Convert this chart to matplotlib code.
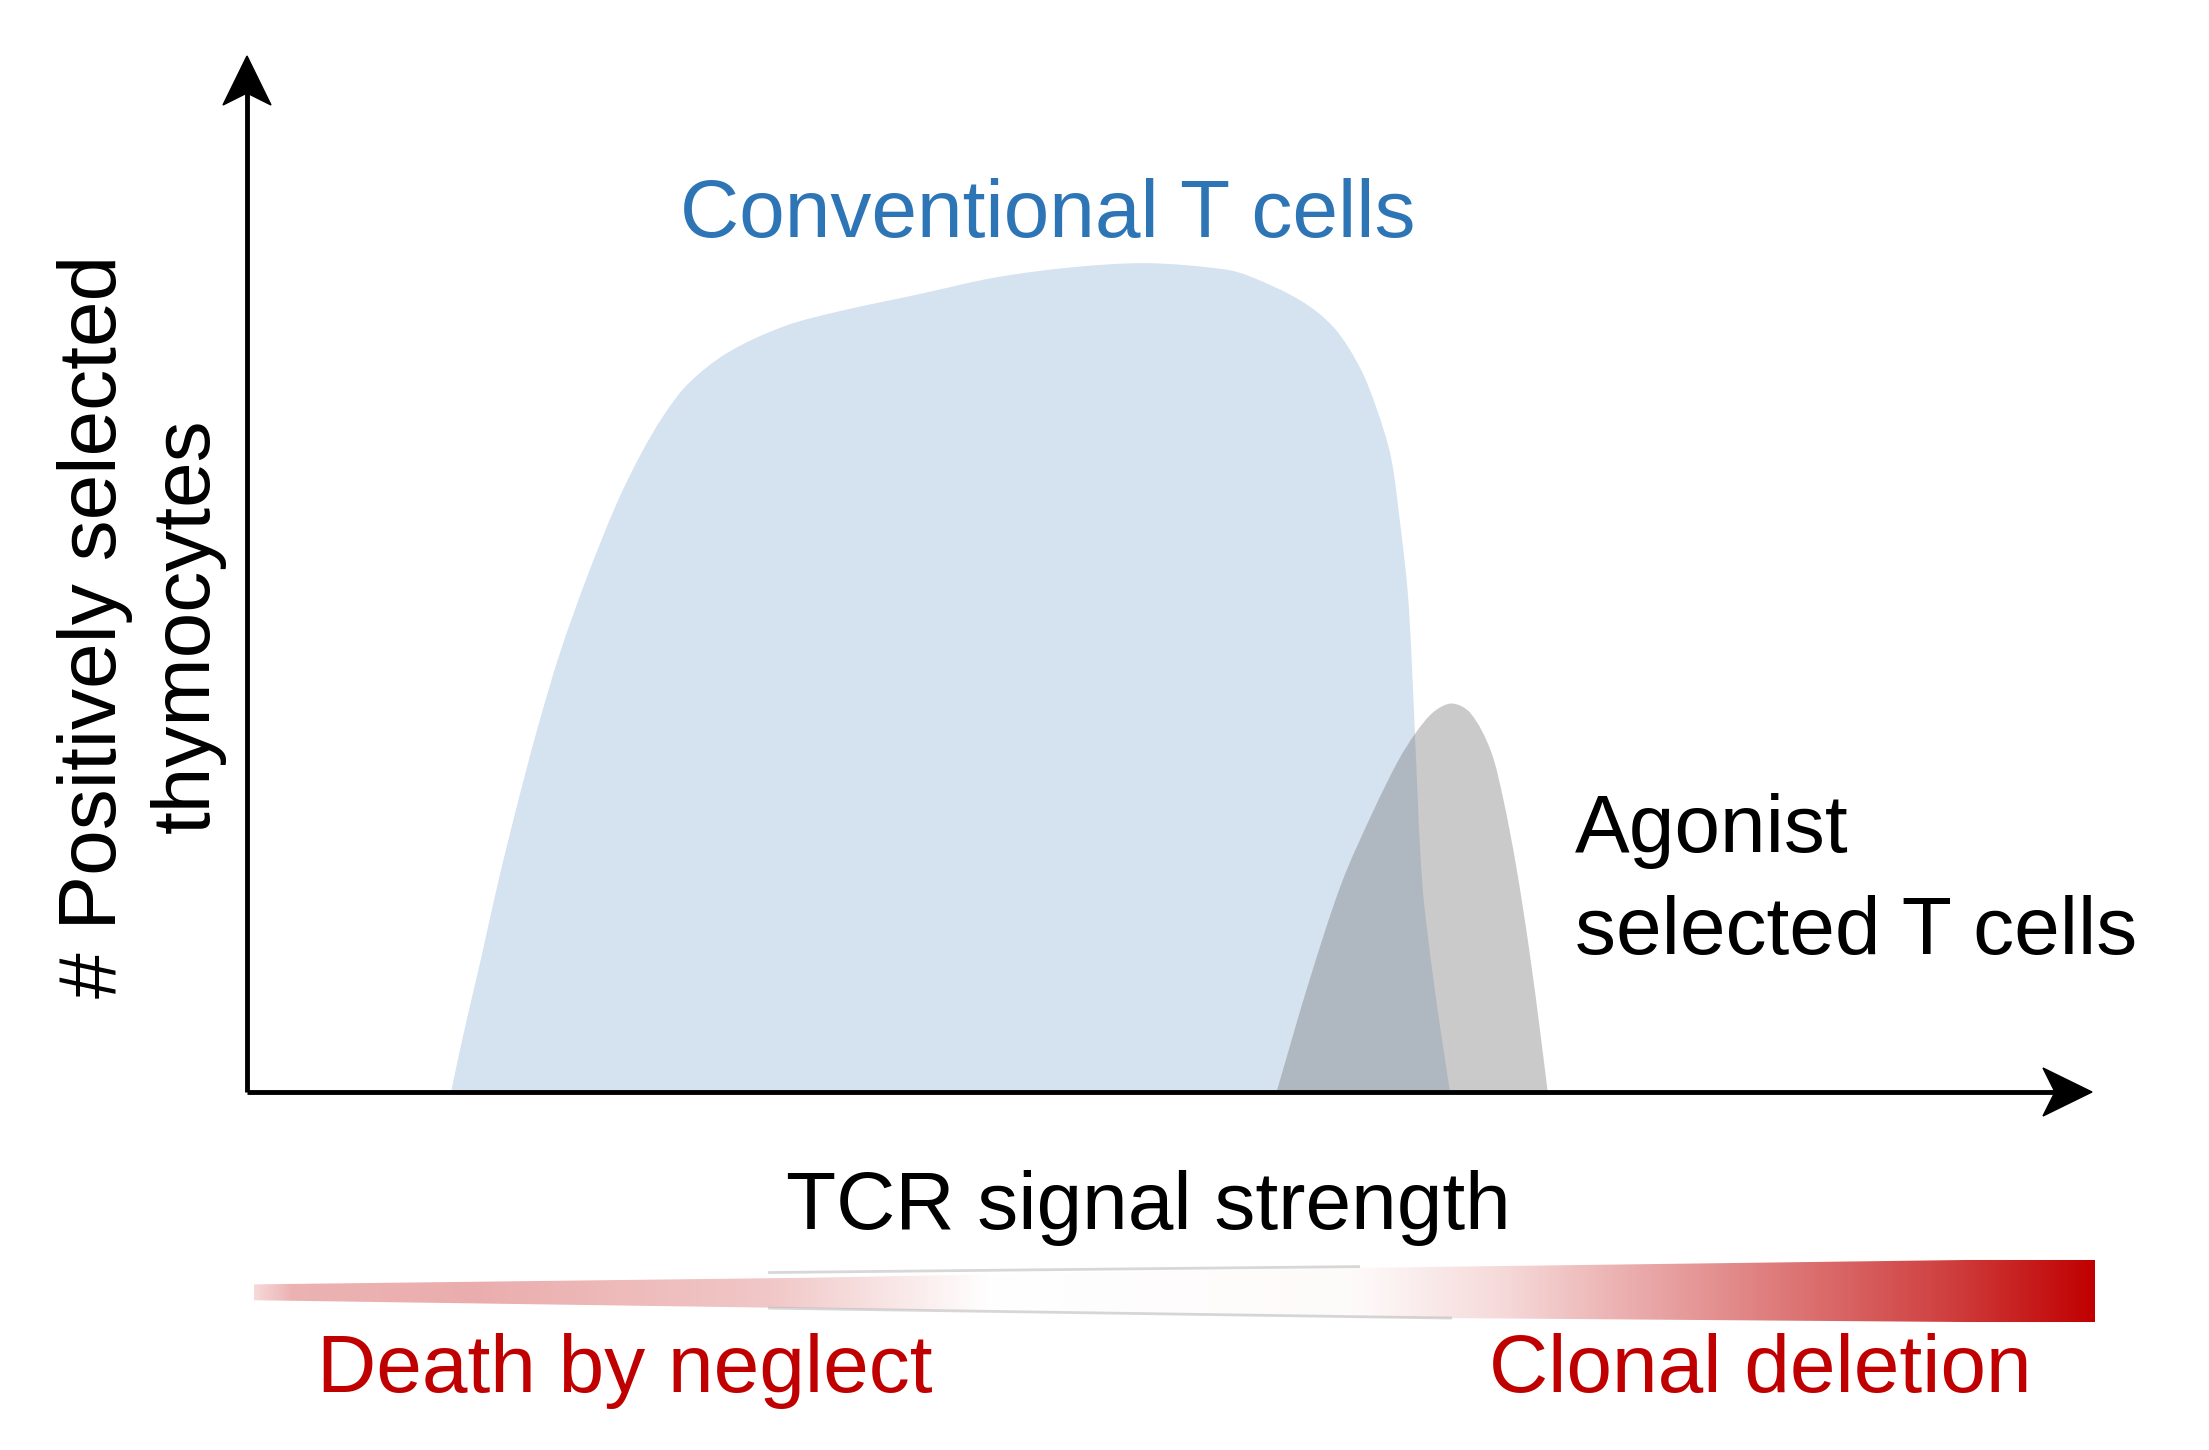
import numpy as np
import matplotlib.pyplot as plt
from matplotlib.patches import Polygon, PathPatch
from matplotlib.path import Path
from matplotlib.colors import to_rgb
from matplotlib.transforms import ScaledTranslation

plt.rcParams['font.family'] = ['Liberation Sans', 'DejaVu Sans']

# outline of the conventional T cell population (signal strength, count), 0..100 axis units
conv_x = [11.06, 11.71, 12.68, 13.60, 14.63, 15.72, 16.96, 18.43, 20.05, 21.41, 22.60,
          23.90, 26.02, 29.1, 32.2, 36.4, 40.5, 44.7, 48.8, 53.0, 54.4, 57.1, 58.9, 60.3,
          61.2, 62.0, 62.5, 62.9, 63.1, 63.3, 63.7, 64.33, 65.2]
conv_y = [0.0, 5.41, 12.84, 20.17, 27.61, 34.94, 42.37, 49.71, 56.85, 61.78, 65.35,
          68.34, 71.33, 73.9, 75.4, 77.0, 78.6, 79.6, 80.0, 79.4, 78.7, 76.4, 73.8, 70.0,
          66.1, 61.3, 54.9, 48.5, 42.7, 34.7, 20.2, 10.52, 0.0]

# outline of the agonist selected population
agon_x = [55.8, 57.54, 59.33, 61.07, 62.42, 63.34, 64.31, 65.3, 66.3, 67.4, 68.1, 68.8,
          69.5, 70.1, 70.5]
agon_y = [0.0, 10.52, 20.17, 27.22, 32.05, 34.65, 36.68, 37.5, 36.6, 33.0, 28.2, 21.7,
          13.7, 5.7, 0.0]

# red intensity along the signal strength bar (0 = white, 1 = full red)
grad_pos = [0.0, 0.02, 0.12, 0.28, 0.40, 0.60, 0.68, 0.80, 0.92, 1.0]
grad_val = [0.15, 0.30, 0.32, 0.22, 0.0, 0.02, 0.15, 0.45, 0.75, 1.0]

W, H = 2209, 1450
AX_W, AX_H = 2092 - 247, 1092 - 56   # axes size in pixels


def fpos(x, y):
    return x / W, 1 - y / H


def smooth_outline(xs, ys):
    # non-uniform catmull-rom through the outline points, closed along the baseline
    p = np.column_stack([xs, ys]).astype(float)
    s = np.array([AX_W / 100, AX_H / 100])
    q = np.vstack([p[0], p, p[-1]])
    d = np.linalg.norm(np.diff(q * s, axis=0), axis=1)
    d[d == 0] = 1e-6
    n = len(q)
    m = np.zeros_like(q)
    for i in range(1, n - 1):
        m[i] = (q[i + 1] - q[i - 1]) / (d[i - 1] + d[i])
    verts = [q[1]]
    codes = [Path.MOVETO]
    for i in range(1, n - 2):
        c1 = q[i] + m[i] * d[i] / 3
        c2 = q[i + 1] - m[i + 1] * d[i] / 3
        verts += [c1, c2, q[i + 1]]
        codes += [Path.CURVE4] * 3
    verts.append(q[1])
    codes.append(Path.CLOSEPOLY)
    return Path(verts, codes)


fig = plt.figure(figsize=(W / 100, H / 100), dpi=100)

ax = fig.add_axes([247 / W, 1 - 1092 / H, AX_W / W, AX_H / H])
ax.set_xlim(0, 100)
ax.set_ylim(0, 100)
ax.axis('off')

ax.add_patch(PathPatch(smooth_outline(conv_x, conv_y), facecolor='#d5e2ef', lw=0, zorder=1))
ax.add_patch(PathPatch(smooth_outline(agon_x, agon_y), facecolor='#666666', alpha=0.34,
                       lw=0, zorder=2))

# axes lines with stealth-style heads
ax.plot([0, 0.985], [0, 0], transform=ax.transAxes, color='black', lw=3.5,
        solid_capstyle='butt', clip_on=False, zorder=5)
ax.plot([0, 0], [0, 0.975], transform=ax.transAxes, color='black', lw=3.5,
        solid_capstyle='butt', clip_on=False, zorder=5)
head = np.array([(0, 0), (-0.49, 0.24), (-0.37, 0), (-0.49, -0.24)])
for tip, rot in [((1, 0), False), ((0, 1), True)]:
    pts = head[:, ::-1] if rot else head
    tr = fig.dpi_scale_trans + ScaledTranslation(tip[0], tip[1], ax.transAxes)
    ax.add_patch(Polygon(pts, closed=True, transform=tr, facecolor='black',
                         edgecolor='black', lw=1, clip_on=False, zorder=6))

fs = 59
fig.text(*fpos(1048, 237), 'Conventional T cells', color='#2e75b6', fontsize=fs,
         ha='center', va='baseline')
fig.text(*fpos(1148, 1229), 'TCR signal strength', color='black', fontsize=fs,
         ha='center', va='baseline')
fig.text(*fpos(141, 626), '# Positively selected\nthymocytes', color='black', fontsize=fs,
         rotation=90, ha='center', va='center', multialignment='center', linespacing=1.28)
fig.text(*fpos(1575, 852), 'Agonist', color='black', fontsize=fs, ha='left', va='baseline')
fig.text(*fpos(1575, 954), 'selected T cells', color='black', fontsize=fs,
         ha='left', va='baseline')
fig.text(*fpos(317, 1392), 'Death by neglect', color='#c00000', fontsize=fs,
         ha='left', va='baseline')
fig.text(*fpos(2032, 1392), 'Clonal deletion', color='#c00000', fontsize=fs,
         ha='right', va='baseline')

# tapered gradient bar
bx0, bx1, by0, by1 = 254, 2095, 1258, 1324
axb = fig.add_axes([bx0 / W, 1 - by1 / H, (bx1 - bx0) / W, (by1 - by0) / H])
axb.set_xlim(0, 1)
axb.set_ylim(0, 1)
axb.axis('off')
t = np.linspace(0, 1, 1000)
v = np.interp(t, grad_pos, grad_val)
red = np.array(to_rgb('#c00000'))
rgb = 1 - v[:, None] * (1 - red)
img = np.tile(rgb[None, :, :], (2, 1, 1))
im = axb.imshow(img, extent=(0, 1, 0, 1), aspect='auto', interpolation='bilinear')
wedge = Polygon([(0, 0.36), (0.3, 0.24), (0.6, 0.1), (0.93, 0.03), (1, 0.03),
                 (1, 0.97), (0.93, 0.97), (0.6, 0.85), (0.3, 0.7), (0, 0.6)],
                closed=True, transform=axb.transData, facecolor='none', edgecolor='none')
axb.add_patch(wedge)
im.set_clip_path(wedge)
# faint grey edges in the pale middle section
axb.plot([0.28, 0.6], [0.78, 0.87], color='#b0b0b0', lw=2, alpha=0.5)
axb.plot([0.28, 0.65], [0.24, 0.09], color='#b0b0b0', lw=2, alpha=0.5)

fig.savefig('out.png', dpi=100)
